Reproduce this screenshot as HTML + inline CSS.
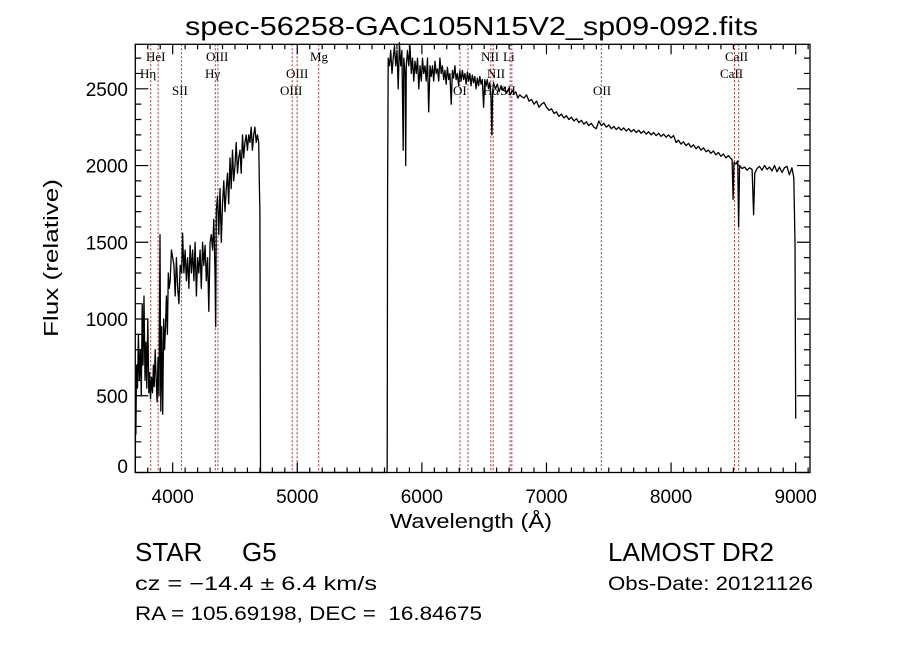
<!DOCTYPE html>
<html><head><meta charset="utf-8"><style>
html,body{margin:0;padding:0;background:#fff;}
svg{display:block;}
text{font-family:"Liberation Sans",sans-serif;fill:#000;white-space:pre;}
.lab{font-family:"Liberation Serif",serif;font-size:13px;}
</style></head><body>
<svg id="chart" width="900" height="649" viewBox="0 0 900 649" xmlns="http://www.w3.org/2000/svg" xml:space="preserve">
<rect x="0" y="0" width="900" height="649" fill="#fff"/>
<text x="185" y="35" font-size="26" textLength="573" lengthAdjust="spacingAndGlyphs">spec-56258-GAC105N15V2_sp09-092.fits</text>
<g id="lines"></g>
<g id="series"></g>
<g id="axes"></g>
<text x="390" y="528" font-size="20" textLength="162" lengthAdjust="spacingAndGlyphs">Wavelength (Å)</text>
<text transform="translate(58,258) rotate(-90)" text-anchor="middle" font-size="20" textLength="158" lengthAdjust="spacingAndGlyphs">Flux (relative)</text>
<text x="135" y="561" font-size="26">STAR</text>
<text x="242" y="561" font-size="26">G5</text>
<text x="608" y="561" font-size="26" textLength="166" lengthAdjust="spacingAndGlyphs">LAMOST DR2</text>
<text x="135" y="590" font-size="19" textLength="242" lengthAdjust="spacingAndGlyphs">cz = −14.4 ± 6.4 km/s</text>
<text x="608" y="590" font-size="19" textLength="205" lengthAdjust="spacingAndGlyphs">Obs-Date: 20121126</text>
<text x="135" y="620" font-size="19" textLength="347" lengthAdjust="spacingAndGlyphs">RA = 105.69198, DEC =  16.84675</text>
</svg>
<script>
const wavelengths=[
3700,3702,3705,3710,3718,3725,3732,3740,3748,3755,
3762,3770,3778,3785,3792,3800,3808,3815,3822,3830,
3838,3845,3852,3860,3868,3875,3882,3890,3898,3905,
3912,3920,3928,3935,3942,3950,3958,3965,3972,3980,
3990,4000,4010,4020,4030,4040,4050,4060,4072,4080,
4090,4100,4110,4120,4130,4140,4150,4160,4170,4180,
4190,4200,4210,4220,4230,4240,4250,4260,4270,4280,
4290,4300,4310,4320,4330,4340,4345,4350,4360,4370,
4380,4390,4400,4410,4420,4430,4440,4450,4460,4470,
4480,4490,4500,4510,4520,4530,4540,4550,4560,4570,
4580,4590,4600,4610,4620,4630,4640,4650,4660,4670,
4680,4690,4695,4700,4705,5720,5722,5725,5730,5740,
5750,5760,5770,5780,5790,5800,5810,5820,5830,5840,
5850,5855,5865,5870,5875,5885,5895,5905,5915,5925,
5935,5945,5955,5965,5975,5985,5995,6005,6015,6025,
6035,6045,6055,6065,6075,6085,6095,6105,6115,6125,
6135,6145,6155,6165,6175,6185,6195,6205,6215,6225,
6235,6245,6255,6265,6275,6285,6295,6305,6315,6325,
6335,6345,6355,6365,6375,6385,6395,6405,6415,6425,
6435,6445,6455,6465,6475,6485,6495,6505,6515,6525,
6535,6545,6555,6562,6568,6575,6590,6605,6620,6635,
6650,6665,6680,6695,6710,6725,6740,6755,6770,6785,
6800,6820,6840,6860,6880,6900,6920,6940,6960,6980,
7000,7020,7040,7060,7080,7100,7120,7140,7160,7180,
7200,7220,7240,7260,7280,7300,7320,7340,7360,7380,
7400,7420,7440,7460,7480,7500,7520,7540,7560,7580,
7600,7620,7640,7660,7680,7700,7720,7740,7760,7780,
7800,7820,7840,7860,7880,7900,7920,7940,7960,7980,
8000,8020,8040,8060,8080,8100,8120,8140,8160,8180,
8200,8220,8240,8260,8280,8300,8320,8340,8360,8380,
8400,8420,8440,8460,8480,8490,8498,8505,8520,8535,
8542,8550,8570,8590,8610,8630,8650,8662,8672,8690,
8710,8730,8750,8770,8790,8810,8830,8850,8870,8890,
8910,8930,8950,8970,8985,8995,9000];
const fluxes=[
0,300,250,700,550,900,600,800,500,1100,
700,1150,600,850,550,1000,520,650,480,620,
520,700,560,800,600,460,750,500,1550,400,
950,380,1000,800,950,1150,900,1300,1200,1250,
1450,1400,1350,1150,1400,1200,1100,1350,1300,1560,
1300,1450,1250,1400,1200,1480,1300,1450,1250,1500,
1150,1400,1300,1450,1200,1500,1350,1480,1250,1400,
1050,1500,1550,1450,1650,1300,950,1700,1800,1550,
1850,1500,1750,1900,1700,1850,1950,1750,2050,1850,
2100,1900,2000,2150,1950,2050,2100,1950,2200,2050,
2150,2200,2100,2200,2150,2250,2100,2200,2250,2150,
2200,2150,1900,1700,0,0,50,1850,2700,2650,
2750,2600,2700,2780,2650,2750,2500,2800,2650,2750,
2100,2700,2600,2000,2650,2750,2650,2780,2600,2700,
2550,2680,2600,2700,2500,2650,2550,2700,2600,2650,
2550,2700,2350,2650,2580,2650,2550,2680,2600,2630,
2550,2700,2600,2650,2560,2620,2530,2640,2560,2600,
2400,2620,2570,2650,2560,2600,2520,2620,2550,2620,
2560,2600,2530,2610,2550,2600,2520,2590,2540,2580,
2500,2570,2520,2580,2530,2560,2380,2560,2520,2560,
2500,2540,2450,2200,2480,2540,2500,2530,2480,2520,
2490,2510,2470,2500,2460,2490,2470,2480,2440,2460,
2450,2440,2460,2420,2430,2400,2420,2380,2400,2410,
2380,2360,2370,2340,2350,2320,2335,2310,2325,2300,
2315,2290,2305,2280,2295,2270,2285,2260,2275,2250,
2240,2290,2260,2275,2250,2265,2240,2255,2235,2250,
2230,2245,2225,2240,2220,2235,2215,2230,2210,2225,
2205,2220,2200,2215,2195,2210,2190,2205,2185,2200,
2180,2195,2150,2165,2140,2155,2130,2145,2120,2135,
2110,2125,2100,2115,2090,2100,2080,2095,2070,2085,
2060,2075,2050,2065,2045,2040,1780,2020,2010,2030,
1600,2000,1980,1990,1970,1985,1975,1680,1950,1980,
1995,1970,2000,1975,1990,1965,2000,1960,1990,1955,
1985,1995,1940,1985,1920,1500,350];
const lineWl=[3824,3883,4070,4342,4363,4959,4999,5172,6306,6370,6553,6572,6708,6722,7440,8509,8543];
const lineLabels=["Hη","HeI","SII","Hγ","OIII","OIII","OIII","Mg","OI","NII","Hα","NII","Li","SII","OII","CaII","CaII"];
const labelX=[140,146,172,205,206,286,280,310,453,487,483,481,503,500,593,720,725];
const labelRow=[1,0,2,1,0,1,2,0,2,1,2,0,0,2,2,1,0];
const xTicks=[4000,5000,6000,7000,8000,9000];
const yTicks=[0,500,1000,1500,2000,2500];

const L=135.3,R=810,T=44.3,B=472.5,XMIN=3700,XMAX=9115,YMAX=2790;
const xs=w=>L+(w-XMIN)/(XMAX-XMIN)*(R-L);
const ys=f=>B-f/YMAX*(B-T);
const NS='http://www.w3.org/2000/svg';
function mk(tag,attrs,parent){const e=document.createElementNS(NS,tag);for(const k in attrs)e.setAttribute(k,attrs[k]);parent.appendChild(e);return e;}

const gl=document.getElementById('lines');
lineWl.forEach((w,i)=>{
  const ln=mk('line',{x1:xs(w),x2:xs(w),y1:T,y2:B,stroke:'#9a3030','stroke-width':1,'stroke-dasharray':'2,2'},gl);
  
  
  const t=mk('text',{x:labelX[i],y:61+labelRow[i]*17,class:'lab'},gl);
  t.textContent=lineLabels[i];
  
  
});

const gs=document.getElementById('series');
let d='';
const n=Math.min(wavelengths.length,fluxes.length);
for(let i=0;i<n;i++){d+=(i?'L':'M')+xs(wavelengths[i]).toFixed(1)+' '+ys(fluxes[i]).toFixed(1);}
const p=mk('path',{d:d,fill:'none',stroke:'#000','stroke-width':1.3,'stroke-linejoin':'round'},gs);



const ga=document.getElementById('axes');
const fr=mk('rect',{x:L,y:T,width:R-L,height:B-T,fill:'none',stroke:'#000','stroke-width':1.3},ga);


let td='';
for(let w=3700;w<=9100;w+=100){const x=xs(w);const maj=w%1000===0;const l=maj?10:5;td+=`M${x} ${B}V${B-l}M${x} ${T}V${T+l}`;}
for(let f=0;f<=2700;f+=100){const y=ys(f);const maj=f%500===0;const l=maj?13:6;td+=`M${L} ${y}H${L+l}M${R} ${y}H${R-l}`;}
const tk=mk('path',{d:td,stroke:'#000','stroke-width':1.2,fill:'none'},ga);


xTicks.forEach(w=>{const t=mk('text',{x:xs(w),y:503,'font-size':19,'text-anchor':'middle'},ga);t.textContent=w;

});
yTicks.forEach(f=>{const t=mk('text',{x:128,y:Math.min(ys(f)+7,473),'font-size':19,'text-anchor':'end'},ga);t.textContent=f;

});
</script>
</body></html>
